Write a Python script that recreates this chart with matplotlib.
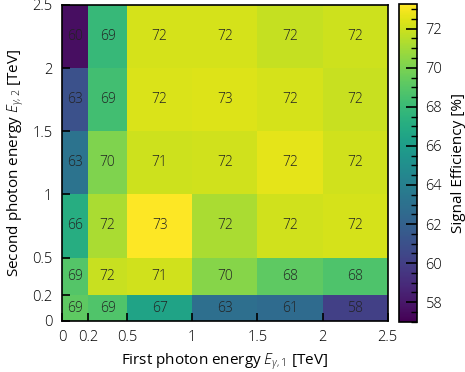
import numpy as np
import matplotlib
matplotlib.use("Agg")
import matplotlib.pyplot as plt
from matplotlib.ticker import MultipleLocator

# bin edges in TeV (same binning on both photons)
e1_edges = [0, 0.2, 0.5, 1, 1.5, 2, 2.5]
e2_edges = [0, 0.2, 0.5, 1, 1.5, 2, 2.5]
tick_labels = ["0", "0.2", "0.5", "1", "1.5", "2", "2.5"]

# signal efficiency [%], rows = E_gamma,2 bins (bottom -> top), cols = E_gamma,1 bins
eff = np.array([
    [69.2, 68.9, 67.1, 63.2, 61.0, 57.6],
    [68.8, 71.9, 71.2, 70.1, 68.3, 67.9],
    [66.4, 72.1, 73.2, 72.0, 72.3, 72.2],
    [62.9, 70.3, 71.2, 72.1, 72.4, 72.2],
    [62.6, 69.2, 72.1, 72.6, 72.2, 71.8],
    [60.1, 68.7, 72.2, 72.1, 71.9, 72.0],
])
eff_min, eff_max = 57.0, 73.25

plt.rcParams['font.family'] = ['Open Sans', 'DejaVu Sans']
plt.rcParams['font.weight'] = 'light'
plt.rcParams['mathtext.fontset'] = 'custom'
plt.rcParams['mathtext.it'] = 'Open Sans:italic:light'
plt.rcParams['mathtext.rm'] = 'Open Sans:light'

fig = plt.figure(figsize=(4.65, 3.72), dpi=100)
ax = fig.add_axes([0.1333, 0.1379, 0.7005, 0.8487])
cax = fig.add_axes([0.858, 0.1352, 0.039, 0.8532])

# colours are filled from the transposed table, labels from the table itself
mesh = ax.pcolormesh(e1_edges, e2_edges, eff.T, cmap="viridis",
                     vmin=eff_min, vmax=eff_max)

x_c = 0.5 * (np.array(e1_edges[1:]) + np.array(e1_edges[:-1]))
y_c = 0.5 * (np.array(e2_edges[1:]) + np.array(e2_edges[:-1]))
for i, yy in enumerate(y_c):
    for j, xx in enumerate(x_c):
        ax.text(xx, yy, "%.0f" % eff[i, j], ha="center", va="center",
                fontsize=10, color="#222222")

ax.set_xlim(0, 2.5)
ax.set_ylim(0, 2.5)
ax.set_xticks(e1_edges)
ax.set_xticklabels(tick_labels)
ax.set_yticks(e2_edges)
ax.set_yticklabels(tick_labels)
ax.tick_params(direction="in", length=6, width=1.2, labelsize=10.5, pad=7,
               top=False, right=False)
for s in ax.spines.values():
    s.set_linewidth(1.2)

ax.set_xlabel(r"First photon energy $E_{\gamma,1}$ [TeV]", fontsize=11)
ax.set_ylabel(r"Second photon energy $E_{\gamma,2}$ [TeV]", fontsize=11)

cb = fig.colorbar(mesh, cax=cax)
cb.set_ticks([58, 60, 62, 64, 66, 68, 70, 72])
cb.ax.yaxis.set_minor_locator(MultipleLocator(0.5))
cb.ax.tick_params(which="major", direction="in", length=8, width=1.2,
                  labelsize=10.5, pad=6)
cb.ax.tick_params(which="minor", direction="in", length=4, width=1.0)
cb.outline.set_linewidth(1.2)
cb.set_label("Signal Efficiency [%]", fontsize=11, labelpad=6)

fig.savefig("out.png", dpi=100)
